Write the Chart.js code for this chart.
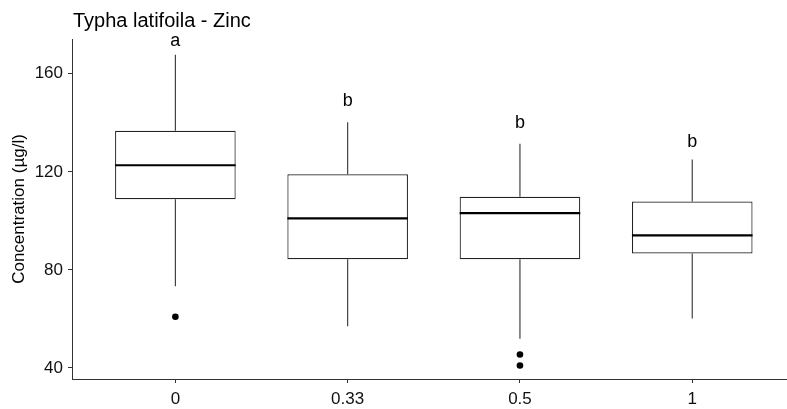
<!DOCTYPE html>
<html>
<head>
<meta charset="utf-8">
<script src="https://cdn.jsdelivr.net/npm/chart.js@4.4.1/dist/chart.umd.min.js"></script>
<style>
  html, body { margin: 0; padding: 0; background: #fff; overflow: hidden; }
  #wrap { width: 787px; height: 409px; overflow: hidden; }
  #c { display: block; }
</style>
</head>
<body>
<div id="wrap"><canvas id="c" width="791" height="409"></canvas></div>
<script>
// ---- data ----
const categories  = ['0', '0.33', '0.5', '1'];
const whiskerLow  = [73.3, 57.0, 51.9, 60.2];
const q1          = [108.8, 84.4, 84.4, 86.7];
const median      = [122.7, 101.0, 103.2, 94.1];
const q3          = [136.8, 119.0, 109.8, 107.9];
const whiskerHigh = [167.8, 140.2, 131.5, 125.0];
const outliers    = [[60.9], [], [45.5, 41.0], []];
const letters     = ['a', 'b', 'b', 'b'];
const letterY     = [171.2, 146.9, 137.8, 130.3];
const yTicks      = [40, 80, 120, 160];
const titleText   = 'Typha latifoila - Zinc';
const yTitle      = 'Concentration (µg/l)';

// ---- build datasets ----
const HALF = 0.35; // half box width in category units
const boxData = categories.map((c, i) => ({ x: i, y: [q1[i], q3[i]] }));
const whiskerData = [];
categories.forEach((c, i) => {
  whiskerData.push({ x: i, y: q3[i] }, { x: i, y: whiskerHigh[i] }, { x: i, y: null });
  whiskerData.push({ x: i, y: whiskerLow[i] }, { x: i, y: q1[i] }, { x: i, y: null });
});
const medianData = [];
categories.forEach((c, i) => {
  medianData.push({ x: i - HALF, y: median[i] }, { x: i + HALF, y: median[i] }, { x: i, y: null });
});
const outlierData = [];
outliers.forEach((arr, i) => arr.forEach(v => outlierData.push({ x: i, y: v })));

const FONT = "'Liberation Sans', Arial, Helvetica, sans-serif";
const AX = '#333333';

const overlay = {
  id: 'overlay',
  afterDatasetsDraw(chart) {
    const { ctx, scales } = chart;
    ctx.save();
    ctx.fillStyle = '#000';
    ctx.textAlign = 'center';
    ctx.textBaseline = 'alphabetic';
    ctx.font = '18px ' + FONT;
    letters.forEach((l, i) => {
      ctx.fillText(l, scales.x.getPixelForValue(i), scales.y.getPixelForValue(letterY[i]));
    });
    ctx.textAlign = 'left';
    ctx.font = '20px ' + FONT;
    ctx.fillText(titleText, chart.chartArea.left + 1, 27);
    ctx.restore();
  }
};

new Chart(document.getElementById('c'), {
  type: 'bar',
  data: {
    datasets: [
      {
        type: 'scatter', data: outlierData, order: 0,
        pointRadius: 3.3, pointBackgroundColor: '#000', pointBorderColor: '#000', pointBorderWidth: 0
      },
      {
        type: 'line', data: medianData, order: 1, spanGaps: false,
        borderColor: '#000', borderWidth: 2.2, pointRadius: 0, fill: false
      },
      {
        type: 'line', data: whiskerData, order: 2, spanGaps: false,
        borderColor: AX, borderWidth: 1.1, pointRadius: 0, fill: false
      },
      {
        type: 'bar', data: boxData, order: 3,
        backgroundColor: '#ffffff', borderColor: '#222222', borderWidth: 1.2, borderSkipped: false,
        categoryPercentage: 1.0, barPercentage: 0.70
      }
    ]
  },
  options: {
    responsive: false,
    animation: false,
    devicePixelRatio: 1,
    layout: { padding: { top: 39, left: 0, right: 0, bottom: 0 } },
    plugins: { legend: { display: false }, tooltip: { enabled: false }, title: { display: false } },
    scales: {
      x: {
        type: 'linear', min: -0.6, max: 3.55, offset: false,
        afterBuildTicks: s => { s.ticks = categories.map((c, i) => ({ value: i })); },
        afterFit: s => { s.height = 30; },
        ticks: {
          autoSkip: false, maxRotation: 0, padding: 6, color: '#111',
          font: { family: FONT, size: 17 },
          callback: v => categories[v]
        },
        grid: { display: true, offset: false, drawOnChartArea: false, drawTicks: true, tickLength: 4, color: AX },
        border: { display: true, color: AX, width: 1 }
      },
      y: {
        type: 'linear', min: 35.5, max: 174.2,
        afterBuildTicks: s => { s.ticks = yTicks.map(v => ({ value: v })); },
        afterFit: s => { s.width = 72; },
        ticks: { padding: 5, color: '#111', font: { family: FONT, size: 17 } },
        grid: { display: true, drawOnChartArea: false, drawTicks: true, tickLength: 4, color: AX },
        border: { display: true, color: AX, width: 1 },
        title: { display: true, text: yTitle, color: '#000', font: { family: FONT, size: 17 }, padding: { top: 9.5, bottom: 0 } }
      }
    }
  },
  plugins: [overlay]
});
</script>
</body>
</html>
